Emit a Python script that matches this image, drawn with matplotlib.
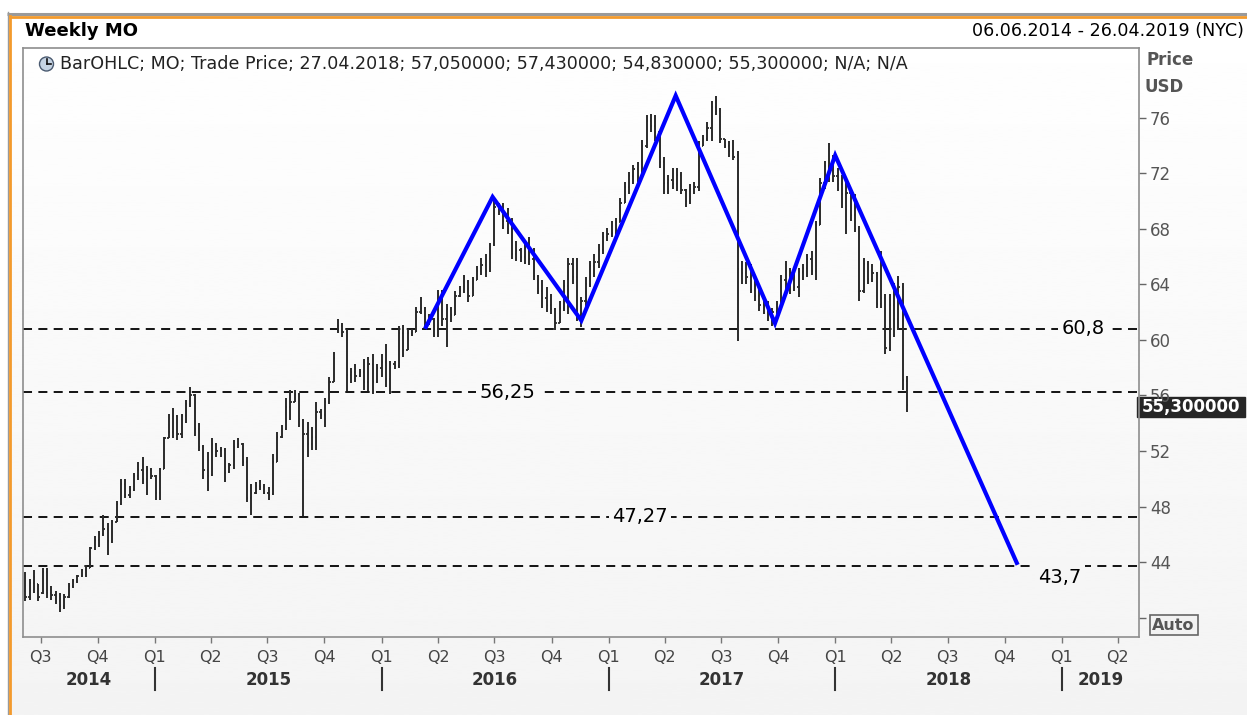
import numpy as np
import pandas as pd
import matplotlib
matplotlib.use("Agg")
import matplotlib.pyplot as plt
import matplotlib.dates as mdates
from matplotlib.transforms import blended_transform_factory
from matplotlib.patches import Rectangle, Circle
from matplotlib.lines import Line2D

plt.rcParams['font.family'] = ['DejaVu Sans']

# ---------------- data (weekly OHLC, MO) ----------------
first_week = "2014-06-06"

opens = [41.9, 41.5, 42.5, 42.4, 41.8, 43.3, 41.8, 41.6, 41.2, 40.8,
         41.5, 42.3, 42.6, 43.0, 43.4, 43.6, 45.0, 45.6, 46.0, 46.4,
         45.5, 46.9, 48.2, 49.6, 48.8, 49.2, 50.2, 50.6, 50.0, 50.6,
         50.2, 49.0, 50.7, 52.9, 53.4, 54.5, 53.2, 54.5, 55.4, 56.0,
         53.6, 52.3, 50.6, 50.3, 52.5, 52.0, 52.1, 50.5, 51.0, 52.3,
         52.5, 51.2, 48.6, 49.0, 49.5, 49.4, 49.0, 48.9, 51.2, 53.0,
         53.6, 55.2, 55.5, 56.1, 54.2, 53.2, 52.5, 53.0, 54.8, 54.6,
         55.5, 57.0, 60.7, 61.0, 60.6, 57.5, 57.7, 57.4, 57.7, 57.0,
         58.3, 57.0, 58.0, 58.4, 57.2, 58.3, 58.1, 60.5, 59.3, 60.5,
         60.6, 62.0, 62.3, 61.2, 61.5, 60.8, 63.3, 61.5, 62.2, 61.8,
         63.2, 63.5, 64.2, 63.2, 64.3, 65.0, 65.4, 65.0, 66.9, 69.6,
         69.4, 68.6, 68.0, 66.2, 66.5, 66.0, 66.6, 65.8, 64.6, 63.5,
         63.0, 62.5, 62.2, 61.2, 62.3, 63.9, 65.5, 64.5, 61.8, 62.8,
         64.0, 65.3, 65.6, 66.5, 67.4, 67.6, 67.7, 68.5, 69.9, 71.0,
         71.8, 72.3, 72.0, 74.0, 75.8, 75.4, 75.0, 72.8, 71.3, 71.5,
         71.2, 71.9, 70.8, 70.0, 70.9, 71.0, 74.0, 74.5, 75.3, 76.8,
         76.5, 74.5, 74.0, 73.6, 73.3, 65.1, 64.8, 64.5, 63.6, 63.2,
         62.5, 62.4, 61.6, 62.0, 62.6, 64.3, 64.0, 64.8, 63.8, 64.9,
         65.2, 65.8, 65.0, 68.3, 71.3, 72.5, 72.4, 71.8, 71.2, 70.5,
         70.6, 69.0, 68.0, 63.5, 65.5, 64.4, 64.8, 62.6, 63.0, 59.4,
         62.5, 61.5, 63.8, 57.05]

highs = [43.3, 42.8, 43.4, 42.4, 43.6, 43.6, 42.3, 41.9, 41.8, 41.7,
         42.5, 42.8, 43.1, 43.5, 43.8, 45.1, 45.9, 46.2, 47.4, 46.8,
         47.0, 48.4, 50.0, 50.0, 49.5, 50.4, 51.2, 51.6, 50.9, 50.8,
         50.3, 50.8, 53.0, 54.7, 55.1, 54.6, 54.7, 55.7, 56.6, 56.1,
         54.0, 52.4, 51.9, 52.9, 52.6, 52.3, 52.2, 51.1, 52.8, 52.9,
         52.6, 51.6, 49.6, 49.8, 49.9, 49.6, 49.4, 51.8, 53.4, 53.9,
         55.8, 56.4, 56.4, 56.2, 54.3, 54.1, 53.7, 55.5, 55.0, 55.8,
         57.3, 59.1, 61.5, 61.2, 60.8, 58.0, 58.3, 57.9, 58.6, 58.8,
         59.0, 58.3, 59.0, 59.7, 58.5, 58.5, 61.0, 61.1, 60.8, 60.8,
         62.4, 63.1, 62.4, 61.9, 61.6, 63.6, 63.6, 62.6, 62.4, 63.5,
         63.9, 64.7, 64.3, 64.5, 65.3, 65.9, 66.2, 67.0, 70.1, 69.9,
         69.9, 69.5, 68.8, 67.1, 66.6, 66.9, 67.4, 66.6, 64.7, 64.3,
         63.8, 63.3, 62.3, 62.8, 64.3, 65.9, 65.9, 65.9, 63.1, 64.5,
         65.7, 66.2, 66.9, 67.8, 68.1, 68.6, 68.8, 70.2, 71.4, 72.1,
         72.6, 72.8, 74.4, 76.2, 76.3, 76.2, 75.1, 73.2, 71.9, 72.4,
         72.4, 72.1, 70.9, 71.2, 71.4, 74.3, 74.8, 75.7, 77.2, 77.6,
         76.7, 74.5, 74.3, 74.4, 73.6, 65.7, 65.6, 65.5, 64.3, 64.0,
         62.8, 62.8, 62.3, 62.8, 64.7, 65.7, 65.2, 65.2, 65.2, 65.5,
         66.2, 66.4, 68.6, 71.7, 72.9, 74.2, 73.3, 72.4, 71.9, 71.7,
         70.9, 70.5, 68.2, 65.9, 65.7, 65.5, 64.9, 66.4, 63.3, 63.3,
         64.1, 64.6, 64.1, 57.43]

lows = [41.2, 41.3, 41.8, 41.2, 41.7, 41.4, 41.3, 41.0, 40.4, 40.6,
        41.4, 42.1, 42.5, 42.9, 42.9, 43.6, 44.9, 45.1, 45.9, 44.5,
        45.4, 46.9, 48.1, 48.6, 48.6, 49.1, 49.9, 49.6, 48.8, 50.0,
        48.5, 48.5, 50.7, 52.9, 52.9, 52.8, 52.9, 54.0, 55.2, 53.1,
        52.0, 50.0, 49.1, 50.2, 51.6, 51.6, 49.8, 50.4, 50.7, 52.2,
        50.9, 48.3, 47.4, 48.9, 49.2, 48.9, 48.5, 48.8, 51.2, 52.9,
        53.5, 54.2, 55.5, 53.7, 47.3, 51.6, 52.1, 52.1, 54.3, 53.7,
        55.4, 57.0, 60.5, 60.2, 56.3, 56.9, 57.0, 57.3, 56.4, 56.3,
        56.1, 56.9, 57.3, 56.6, 56.1, 57.9, 58.0, 58.8, 59.3, 60.3,
        60.6, 61.9, 60.8, 61.1, 60.2, 60.2, 61.0, 59.5, 61.3, 61.8,
        63.1, 63.4, 62.7, 63.2, 64.3, 64.7, 64.5, 64.9, 66.8, 69.0,
        68.0, 67.6, 65.8, 65.7, 65.6, 65.5, 65.4, 64.3, 63.3, 62.3,
        62.0, 61.9, 60.7, 61.2, 62.1, 61.9, 64.0, 61.4, 60.9, 62.1,
        63.8, 64.5, 65.2, 66.2, 67.1, 67.4, 67.1, 68.5, 69.9, 70.5,
        71.2, 71.4, 71.8, 73.8, 75.0, 74.3, 72.4, 70.5, 70.5, 70.9,
        70.7, 70.5, 69.6, 69.8, 70.5, 70.7, 74.0, 74.3, 74.3, 76.2,
        74.2, 73.8, 73.2, 73.0, 59.9, 64.0, 64.0, 63.4, 62.8, 62.1,
        61.9, 61.4, 61.0, 61.4, 62.3, 63.3, 63.3, 63.5, 63.1, 64.3,
        64.5, 64.7, 64.3, 68.3, 70.9, 71.4, 71.4, 70.7, 69.5, 67.6,
        68.6, 67.8, 62.8, 63.4, 64.0, 64.2, 62.3, 62.3, 59.0, 59.2,
        60.2, 60.7, 56.4, 54.83]

closes = [41.5, 42.5, 42.9, 41.5, 43.3, 41.8, 41.6, 41.2, 40.8, 41.5,
          42.3, 42.6, 43.0, 43.4, 43.6, 45.0, 45.6, 46.0, 46.4, 45.5,
          46.9, 48.2, 49.6, 48.8, 49.2, 50.2, 50.6, 50.0, 50.6, 50.2,
          49.0, 50.7, 52.9, 53.4, 54.5, 53.2, 54.5, 55.4, 56.0, 53.6,
          52.3, 50.6, 50.2, 52.5, 52.0, 52.1, 50.4, 51.0, 52.3, 52.5,
          51.2, 48.6, 49.0, 49.5, 49.4, 49.0, 48.8, 51.2, 53.0, 53.6,
          55.2, 55.5, 56.1, 54.3, 53.2, 52.5, 53.0, 54.8, 54.6, 55.5,
          57.0, 58.7, 61.0, 60.6, 57.5, 57.7, 57.4, 57.7, 57.0, 58.3,
          57.0, 58.0, 58.4, 57.2, 58.3, 58.1, 60.5, 59.3, 60.5, 60.6,
          62.0, 62.3, 61.2, 61.5, 60.8, 63.3, 61.5, 62.2, 61.8, 63.2,
          63.5, 64.5, 63.2, 64.3, 65.0, 65.4, 65.0, 66.8, 69.6, 69.4,
          68.6, 68.0, 66.2, 66.5, 66.0, 66.6, 65.8, 64.6, 63.5, 63.0,
          62.5, 62.2, 61.2, 62.3, 63.9, 65.5, 64.5, 61.8, 62.8, 64.0,
          65.3, 65.6, 66.5, 67.4, 67.6, 67.7, 68.5, 69.9, 71.0, 71.8,
          72.3, 71.8, 74.0, 75.8, 75.4, 75.0, 72.8, 71.3, 71.5, 71.2,
          71.9, 70.8, 70.0, 70.9, 71.0, 74.0, 74.5, 75.3, 76.8, 76.5,
          74.5, 74.0, 73.6, 73.2, 65.1, 64.8, 64.5, 63.6, 63.2, 62.5,
          62.4, 61.6, 62.0, 62.6, 64.3, 64.0, 64.8, 63.8, 64.9, 65.2,
          65.8, 65.0, 68.3, 71.3, 72.5, 72.4, 71.8, 71.2, 70.5, 70.6,
          69.0, 68.0, 63.5, 65.5, 64.4, 64.8, 62.6, 63.0, 59.4, 62.5,
          61.5, 63.8, 57.1, 55.30]

# blue hand-drawn pattern line
zigzag_dates = ["2016-03-11", "2016-06-28", "2016-11-18", "2017-04-19",
                "2017-09-26", "2018-01-01", "2018-10-22"]
zigzag_values = [60.8, 70.3, 61.4, 77.6, 61.2, 73.3, 43.8]

# horizontal levels and their labels
levels = [60.8, 56.25, 47.27, 43.7]
level_labels = ["60,8", "56,25", "47,27", "43,7"]

price_ticks = [40, 44, 48, 52, 56, 60, 64, 68, 72, 76]
price_tick_labels = ["", "44", "48", "52", "56", "60", "64", "68", "72", "76"]
years = [2014, 2015, 2016, 2017, 2018, 2019]

title = "Weekly MO"
date_range = "06.06.2014 - 26.04.2019 (NYC)"
legend_text = ("BarOHLC; MO; Trade Price; 27.04.2018; 57,050000; 57,430000; "
               "54,830000; 55,300000; N/A; N/A")
last_label = "55,300000"

# ---------------- figure ----------------
W, H = 1247, 715
fig = plt.figure(figsize=(W / 100, H / 100), dpi=100)

# background (pixel coordinates)
bg = fig.add_axes([0, 0, 1, 1], zorder=-10)
bg.set_xlim(0, W)
bg.set_ylim(H, 0)
bg.axis("off")
grad = np.linspace(1.0, 0.955, 256).reshape(-1, 1)
bg.imshow(grad, cmap="gray", vmin=0, vmax=1, extent=[0, W, H, 0], aspect="auto")
bg.add_patch(Rectangle((0, 0), W, 12, color="white"))
bg.add_patch(Rectangle((0, 0), 7, H, color="white"))
bg.plot([7, W], [13.5, 13.5], color="#9a9a9a", lw=2.2, solid_capstyle="butt")
bg.plot([8.5, W], [16.5, 16.5], color="#f39a2c", lw=2.0, solid_capstyle="butt")
bg.plot([7.5, 7.5], [12, H], color="#9a9a9a", lw=1.0)
bg.plot([9.8, 9.8], [15.5, H], color="#f39a2c", lw=2.0)

# main axes
L, R, T, B = 23, 1139, 48, 637
ax = fig.add_axes([L / W, 1 - B / H, (R - L) / W, (B - T) / H])
ax.set_facecolor("none")

weeks = pd.date_range(first_week, periods=len(closes), freq="7D")
xs = mdates.date2num(weeks)
half = 2.0
bar_color = "#2a2a2a"
ax.vlines(xs, lows, highs, color=bar_color, lw=1.4, zorder=3)
ax.hlines(opens, xs - half, xs, color=bar_color, lw=1.3, zorder=3)
ax.hlines(closes, xs, xs + half, color=bar_color, lw=1.3, zorder=3)

# x range
x0 = mdates.date2num(pd.Timestamp("2015-01-01")) + (L - 155) / 0.6206
x1 = mdates.date2num(pd.Timestamp("2015-01-01")) + (R - 155) / 0.6206
ax.set_xlim(x0, x1)
y_top = 56.25 + (392 - T) / 13.88
y_bot = 56.25 - (B - 392) / 13.88
ax.set_ylim(y_bot, y_top)

# dashed levels
lab_x = [0.950, 0.434, 0.553, 0.929]
lab_dy = [0, 0, 0, -0.8]
trans = blended_transform_factory(ax.transAxes, ax.transData)
for lv, lb, lx, dy in zip(levels, level_labels, lab_x, lab_dy):
    ax.axhline(lv, color="black", lw=1.3, ls=(0, (5, 3.5)), zorder=2)
    ypix = 392 - (lv + dy - 56.25) * 13.88
    shade = 1.0 - 0.045 * ypix / H
    ax.text(lx, lv + dy, lb, transform=trans, ha="center", va="center",
            fontsize=14, color="black", zorder=4,
            bbox=dict(facecolor=(shade, shade, shade), edgecolor="none", pad=2.5))

# blue pattern line
zx = mdates.date2num(pd.to_datetime(zigzag_dates))
ax.plot(zx, zigzag_values, color="#0000ff", lw=3.0, zorder=5,
        solid_joinstyle="miter", solid_capstyle="butt")

# spines
for s in ax.spines.values():
    s.set_color("#8e8e8e")
    s.set_linewidth(1.2)

# y axis on right
ax.yaxis.tick_right()
ax.set_yticks(price_ticks)
ax.set_yticklabels(price_tick_labels)
ax.tick_params(axis="y", direction="out", length=5, width=1.0, color="#666666",
               labelcolor="#555555", labelsize=12, pad=3)

# x axis: quarters
ax.xaxis.set_major_locator(mdates.MonthLocator(bymonth=[1, 4, 7, 10]))
ax.xaxis.set_major_formatter(plt.FuncFormatter(
    lambda v, p: "Q%d" % ((mdates.num2date(v).month - 1) // 3 + 1)))
ax.tick_params(axis="x", direction="out", length=4, width=1.0, color="#777777",
               labelcolor="#444444", labelsize=11.5, pad=5)

# years with separators
tx = blended_transform_factory(ax.transData, ax.transAxes)
for yr in years:
    start = max(mdates.date2num(pd.Timestamp(f"{yr}-01-01")), x0)
    end = min(mdates.date2num(pd.Timestamp(f"{yr + 1}-01-01")), x1)
    ax.text((start + end) / 2, (B - 680) / (B - T), str(yr), transform=tx,
            ha="center", va="center", fontsize=12, fontweight="bold",
            color="#333333", clip_on=False)
    if yr > years[0]:
        sx = mdates.date2num(pd.Timestamp(f"{yr}-01-01"))
        ax.add_line(Line2D([sx, sx], [(B - 668) / (B - T), (B - 690) / (B - T)],
                           transform=tx, color="#333333", lw=1.5, clip_on=False))

# title, date range, legend text
fig.text(25 / W, 1 - 31 / H, title, ha="left", va="center", fontsize=13,
         fontweight="bold", color="black")
fig.text(1244 / W, 1 - 31 / H, date_range, ha="right", va="center",
         fontsize=12.6, color="black")
fig.text(60 / W, 1 - 64 / H, legend_text, ha="left", va="center",
         fontsize=12.6, color="#222222")
bg.add_patch(Circle((46.5, 64), 7, facecolor="#c5d3e3", edgecolor="#4a5a70", lw=1.0, zorder=5))
bg.plot([46.5, 46.5], [64, 59], color="#111111", lw=1.2, zorder=6)
bg.plot([46.5, 50.5], [64, 64], color="#111111", lw=1.2, zorder=6)

# price axis title
fig.text(1147 / W, 1 - 60 / H, "Price", ha="left", va="center", fontsize=12,
         fontweight="bold", color="#555555")
fig.text(1145 / W, 1 - 87 / H, "USD", ha="left", va="center", fontsize=12,
         fontweight="bold", color="#555555")

# last price box
bg.add_patch(Rectangle((1137, 396.5), 108, 20.5, color="#262626", zorder=5))
fig.text(1191 / W, 1 - 407 / H, last_label, ha="center", va="center",
         fontsize=12, fontweight="bold", color="white", zorder=10)

# Auto box
bg.add_patch(Rectangle((1149.5, 614.5), 48, 20, facecolor="#f2f2f2",
                       edgecolor="#666666", lw=1.2, zorder=5))
fig.text(1173.5 / W, 1 - 625 / H, "Auto", ha="center", va="center",
         fontsize=11.5, fontweight="bold", color="#555555", zorder=10)

fig.savefig("out.png", dpi=100)
